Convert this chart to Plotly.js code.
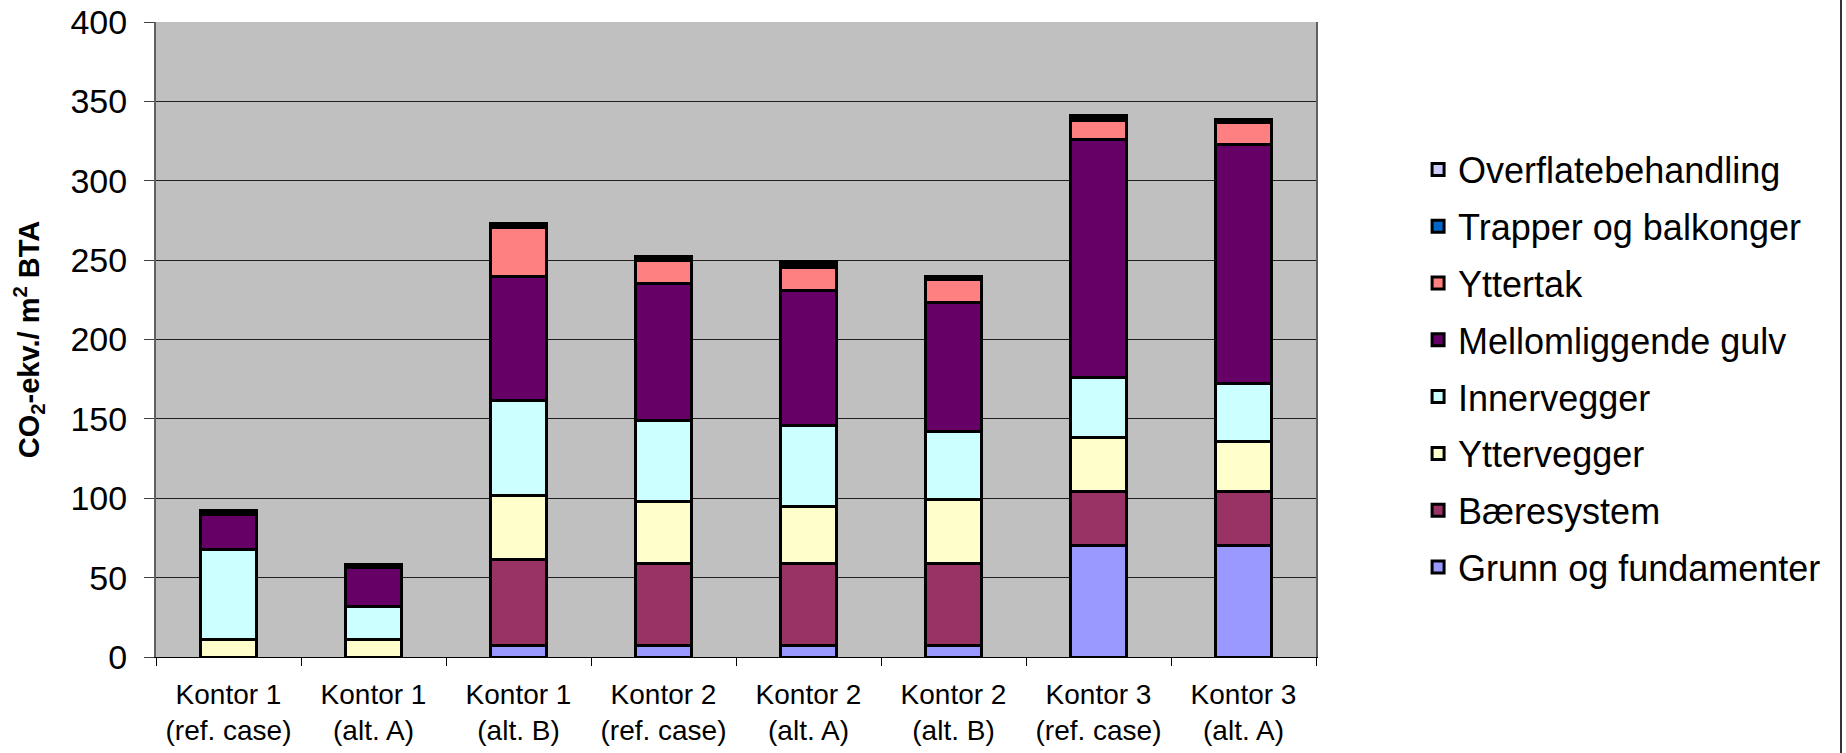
<!DOCTYPE html>
<html>
<head>
<meta charset="utf-8">
<script src="https://cdn.plot.ly/plotly-3.0.1.min.js"></script>
<style>
  html, body { margin: 0; padding: 0; background: #ffffff; }
  #chart { width: 1846px; height: 753px; }
</style>
</head>
<body>
<div id="chart"></div>
<script>
const categories = [
  "Kontor 1<br>(ref. case)", "Kontor 1<br>(alt. A)", "Kontor 1<br>(alt. B)",
  "Kontor 2<br>(ref. case)", "Kontor 2<br>(alt. A)", "Kontor 2<br>(alt. B)",
  "Kontor 3<br>(ref. case)", "Kontor 3<br>(alt. A)"
];
const grunnOgFundamenter  = [0, 0, 7.5, 7.5, 7.5, 7.5, 70, 70];
const baeresystem         = [0, 0, 54, 51.5, 51.5, 51.5, 34, 34];
const yttervegger         = [11, 11, 40, 39, 35.5, 40.5, 34.5, 31.5];
const innervegger         = [57, 20.5, 60, 51, 51.5, 42.5, 37.5, 37];
const mellomliggendeGulv  = [22, 25, 78.5, 86, 85, 81.5, 150, 150.5];
const yttertak            = [0, 0, 30.5, 14.5, 14.5, 14.5, 12, 13.5];
const trapperOgBalkonger  = [1.5, 1.5, 1.5, 1.5, 1.9, 1.5, 1.8, 1.5];
const overflatebehandling = [0.5, 0.5, 0.8, 1, 1.9, 0.5, 1.2, 0.5];

const seriesNames = ["Grunn og fundamenter", "Bæresystem", "Yttervegger", "Innervegger",
  "Mellomliggende gulv", "Yttertak", "Trapper og balkonger", "Overflatebehandling"];
const seriesValues = [grunnOgFundamenter, baeresystem, yttervegger, innervegger,
  mellomliggendeGulv, yttertak, trapperOgBalkonger, overflatebehandling];
const seriesColors = ["#9999FF", "#993366", "#FFFFCC", "#CCFFFF",
  "#660066", "#FF8080", "#0066CC", "#CCCCFF"];

const traces = seriesNames.map((name, i) => ({
  type: "bar",
  name: name,
  x: categories,
  y: seriesValues[i],
  legendgroup: "g" + i,
  legendrank: 1000 - i,
  marker: { color: seriesColors[i], line: { color: "#000000", width: 3 } },
  hoverinfo: "x+y+name"
}));

const font = "Liberation Sans, Arial, sans-serif";

const layout = {
  width: 1846,
  height: 753,
  barmode: "stack",
  bargap: 0.607,
  paper_bgcolor: "#ffffff",
  plot_bgcolor: "#C0C0C0",
  margin: { l: 156, r: 530, t: 22, b: 96 },
  font: { family: font, color: "#000000" },
  showlegend: true,
  legend: {
    x: 1.088, xanchor: "left",
    y: 0.815, yanchor: "top",
    traceorder: "grouped",
    tracegroupgap: 7,
    font: { family: font, size: 36, color: "#000000" },
    bgcolor: "rgba(0,0,0,0)",
    itemclick: false
  },
  xaxis: {
    type: "category",
    tickson: "boundaries",
    ticks: "outside",
    ticklen: 8,
    tickcolor: "#000000",
    tickwidth: 1,
    showline: true,
    linecolor: "#000000",
    linewidth: 1,
    showgrid: false,
    ticklabelstandoff: 12,
    tickfont: { family: font, size: 28, color: "#000000" }
  },
  yaxis: {
    range: [0, 400],
    dtick: 50,
    tick0: 0,
    ticks: "outside",
    ticklen: 10,
    tickcolor: "#404040",
    showgrid: true,
    gridcolor: "#202020",
    gridwidth: 1,
    showline: true,
    linecolor: "#606060",
    linewidth: 2,
    mirror: true,
    zeroline: false,
    ticklabelstandoff: 10,
    tickfont: { family: font, size: 34, color: "#000000" },
    title: {
      text: "<b>CO<sub>2</sub>-ekv./ m<sup>2</sup> BTA</b>",
      font: { family: font, size: 29, color: "#000000" },
      standoff: 22
    }
  },
  shapes: [
    { type: "line", xref: "paper", yref: "paper",
      x0: (1841 - 156) / 1160, x1: (1841 - 156) / 1160, y0: -0.2, y1: 1.1,
      line: { color: "#333333", width: 2 } }
  ]
};

Plotly.newPlot("chart", traces, layout, { displayModeBar: false, staticPlot: false });
</script>
</body>
</html>
